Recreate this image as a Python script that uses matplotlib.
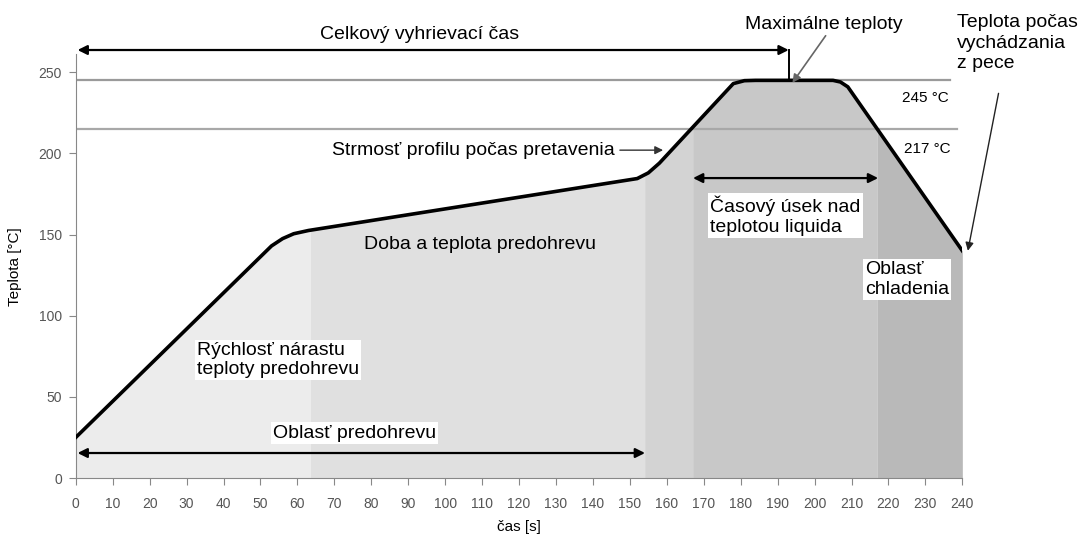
import numpy as np
import matplotlib.pyplot as plt

# reflow profile
cas = [0, 53, 56, 59, 63, 152, 155, 158, 178, 181, 184, 205, 207, 209, 240]
teplota = [25, 143, 147.5, 150.5, 152.5, 184.5, 188, 194, 243, 244.8, 245, 245, 244, 241, 140]

# shaded zones under the curve
hranice = [0, 63.5, 154, 167, 217, 240]
farby = ['#ececec', '#e0e0e0', '#d3d3d3', '#c8c8c8', '#b9b9b9']

t_max = 245
t_liq = 215
xticks = list(range(0, 241, 10))
yticks = [0, 50, 100, 150, 200, 250]

plt.rcParams['font.family'] = ['Liberation Sans', 'DejaVu Sans']

fig = plt.figure(figsize=(10.82, 5.38), dpi=100)
ax = fig.add_axes([0.070, 0.1115, 0.8194, 0.7874])

for i in range(len(farby)):
    a, b = hranice[i], hranice[i + 1]
    xs = [a] + [c for c in cas if a < c < b] + [b]
    ys = np.interp(xs, cas, teplota)
    ax.fill_between(xs, 0, ys, color=farby[i], lw=0, zorder=1)

ax.plot([0, 236.7], [t_max, t_max], color='#9a9a9a', lw=1.6, zorder=2)
ax.plot([0, 238.5], [t_liq, t_liq], color='#a8a8a8', lw=1.6, zorder=2)
ax.plot(cas, teplota, color='black', lw=2.6, zorder=3, solid_joinstyle='round')

ax.set_xlim(0, 240)
ax.set_ylim(0, 261)
ax.set_xticks(xticks)
ax.set_yticks(yticks)
ax.tick_params(axis='both', colors='#888888', labelcolor='#555555', labelsize=10)
ax.tick_params(axis='x', length=5, pad=9)
ax.tick_params(axis='y', length=5, pad=5)
for s in ['top', 'right']:
    ax.spines[s].set_visible(False)
for s in ['left', 'bottom']:
    ax.spines[s].set_color('#888888')
ax.set_xlabel('čas [s]', fontsize=11, labelpad=6)
ax.set_ylabel('Teplota [°C]', fontsize=11, labelpad=12)

fs = 14
biela = dict(facecolor='white', edgecolor='none', pad=1.5)
dvoj = dict(arrowstyle='<|-|>', color='black', lw=1.6, mutation_scale=14, shrinkA=0, shrinkB=0)

# celkovy cas
ax.annotate('', xy=(193, 263.7), xytext=(0.5, 263.7), arrowprops=dvoj, annotation_clip=False)
ax.plot([193, 193], [263.7, 245], color='black', lw=1.4, clip_on=False, zorder=4)
ax.text(93, 273, 'Celkový vyhrievací čas', fontsize=fs, ha='center', va='center', clip_on=False)

ax.text(202.6, 279.5, 'Maximálne teploty', fontsize=fs, ha='center', va='center', clip_on=False)
ax.annotate('', xy=(194, 243.5), xytext=(203, 272.5), annotation_clip=False,
            arrowprops=dict(arrowstyle='-|>', color='#666666', lw=1.2, mutation_scale=12, shrinkA=0, shrinkB=0))

ax.text(238.5, 268, 'Teplota počas\nvychádzania\nz pece', fontsize=fs, ha='left', va='center',
        linespacing=1.25, clip_on=False)
ax.annotate('', xy=(241.5, 140), xytext=(249.8, 237), annotation_clip=False,
            arrowprops=dict(arrowstyle='-|>', color='#222222', lw=1.0, mutation_scale=12, shrinkA=0, shrinkB=0))

ax.text(230, 234, '245 °C', fontsize=11, ha='center', va='center', zorder=5)
ax.text(230.5, 203, '217 °C', fontsize=11, ha='center', va='center', zorder=5)

ax.text(146, 202, 'Strmosť profilu počas pretavenia', fontsize=fs, ha='right', va='center')
ax.annotate('', xy=(159, 202), xytext=(147.3, 202),
            arrowprops=dict(arrowstyle='-|>', color='#333333', lw=1.0, mutation_scale=12, shrinkA=0, shrinkB=0))

ax.annotate('', xy=(217.2, 184.8), xytext=(167.1, 184.8), arrowprops=dvoj)
ax.text(171.7, 161.7, 'Časový úsek nad\nteplotou liquida', fontsize=fs, ha='left', va='center',
        linespacing=1.2, bbox=biela, zorder=5)

ax.text(213.7, 122.3, 'Oblasť\nchladenia', fontsize=fs, ha='left', va='center',
        linespacing=1.2, bbox=biela, zorder=5)

ax.text(109.4, 143.6, 'Doba a teplota predohrevu', fontsize=fs, ha='center', va='center', zorder=5)

ax.text(32.8, 72.7, 'Rýchlosť nárastu\nteploty predohrevu', fontsize=fs, ha='left', va='center',
        linespacing=1.2, bbox=biela, zorder=5)

ax.annotate('', xy=(154.1, 15.4), xytext=(0.5, 15.4), arrowprops=dvoj)
ax.text(75.4, 27.7, 'Oblasť predohrevu', fontsize=fs, ha='center', va='center', bbox=biela, zorder=5)

fig.savefig('out.png', dpi=100)
